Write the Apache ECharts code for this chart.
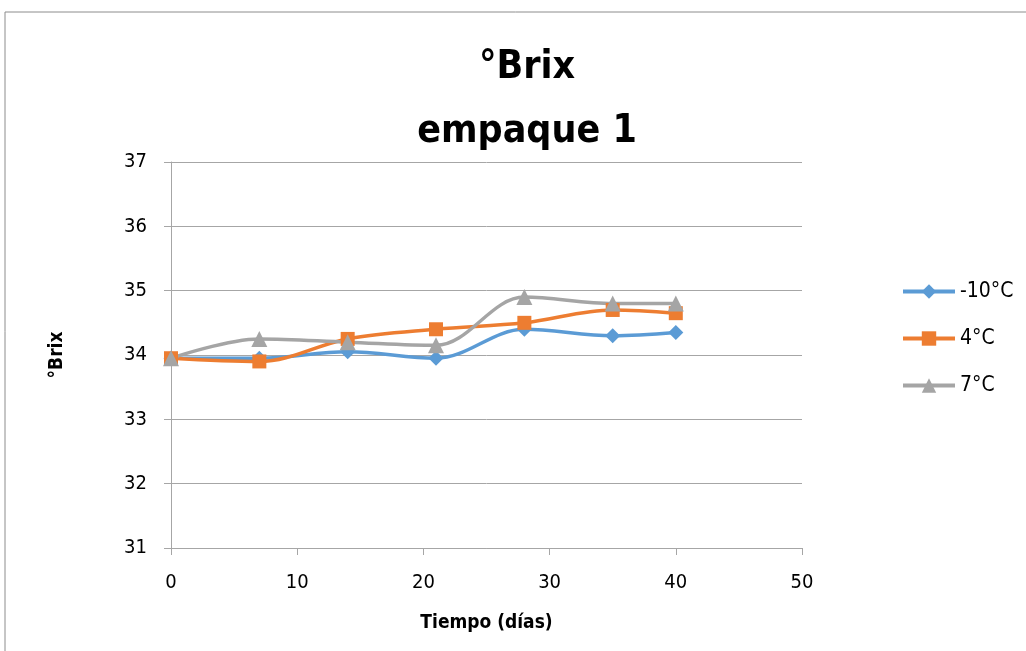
<!DOCTYPE html>
<html>
<head>
<meta charset="utf-8">
<script src="https://cdn.jsdelivr.net/npm/echarts@6/dist/echarts.min.js"></script>
<style>
html,body{margin:0;padding:0;background:#fff;}
#chart{width:1026px;height:651px;}
</style>
</head>
<body>
<div id="chart"></div>
<script>
// Days of storage
const dias = [0, 7, 14, 21, 28, 35, 40];
// °Brix per storage temperature
const serieMenos10 = [33.95, 33.95, 34.05, 33.95, 34.4, 34.3, 34.35];
const serie4 = [33.95, 33.9, 34.25, 34.4, 34.5, 34.7, 34.65];
const serie7 = [33.95, 34.25, 34.2, 34.15, 34.9, 34.8, 34.8];
const nombres = ['-10°C', '4°C', '7°C'];
const colores = ['#5B9BD5', '#ED7D31', '#A5A5A5'];
const simbolos = ['diamond', 'rect', 'triangle'];
const tamanos = [15, 14, 16];

const FONT = '"Liberation Sans Narrow", "DejaVu Sans Condensed", "Open Sans", sans-serif';

const chart = echarts.init(document.getElementById('chart'), null, {renderer: 'canvas'});
const valores = [serieMenos10, serie4, serie7];

chart.setOption({
  animation: false,
  backgroundColor: '#fff',
  graphic: [{
    type: 'polyline',
    shape: {points: [[5, 651], [5, 12], [1026, 12]]},
    style: {stroke: '#8c8c8c', lineWidth: 1, fill: null}
  }],
  title: {
    text: '°Brix\nempaque 1',
    left: 522,
    top: 31,
    textAlign: 'center',
    textStyle: {fontFamily: FONT, fontWeight: 'bold', fontSize: 39, lineHeight: 64, color: '#000'}
  },
  legend: {
    orient: 'vertical',
    left: 896,
    top: 276,
    itemWidth: 52,
    itemHeight: 18,
    itemGap: 26,
    lineStyle: {width: 4},
    textStyle: {fontFamily: FONT, fontSize: 21, color: '#000'},
    data: nombres
  },
  grid: {left: 171, right: 224, top: 162, bottom: 103, containLabel: false},
  xAxis: {
    type: 'value',
    min: 0, max: 50, interval: 10,
    name: 'Tiempo (días)',
    nameLocation: 'middle',
    nameGap: 66,
    nameTextStyle: {fontFamily: FONT, fontWeight: 'bold', fontSize: 19, color: '#000'},
    axisLine: {lineStyle: {color: '#a6a6a6', width: 1}},
    axisTick: {show: true, length: 7, lineStyle: {color: '#a6a6a6'}},
    axisLabel: {fontFamily: FONT, fontSize: 20, color: '#000', margin: 25},
    splitLine: {show: false}
  },
  yAxis: {
    type: 'value',
    min: 31, max: 37, interval: 1,
    name: '°Brix',
    nameLocation: 'middle',
    nameGap: 104,
    nameTextStyle: {fontFamily: FONT, fontWeight: 'bold', fontSize: 19, color: '#000'},
    axisLine: {show: true, lineStyle: {color: '#a6a6a6', width: 1}},
    axisTick: {show: true, length: 7, lineStyle: {color: '#a6a6a6'}},
    axisLabel: {fontFamily: FONT, fontSize: 20, color: '#000', margin: 24},
    splitLine: {show: true, lineStyle: {color: '#a6a6a6', width: 1}}
  },
  series: nombres.map((n, i) => ({
    name: n,
    type: 'line',
    smooth: 0.35,
    data: dias.map((d, j) => [d, valores[i][j]]),
    symbol: simbolos[i],
    symbolSize: tamanos[i],
    showAllSymbol: true,
    lineStyle: {color: colores[i], width: 3.5},
    itemStyle: {color: colores[i], borderWidth: 0}
  }))
});
</script>
</body>
</html>
